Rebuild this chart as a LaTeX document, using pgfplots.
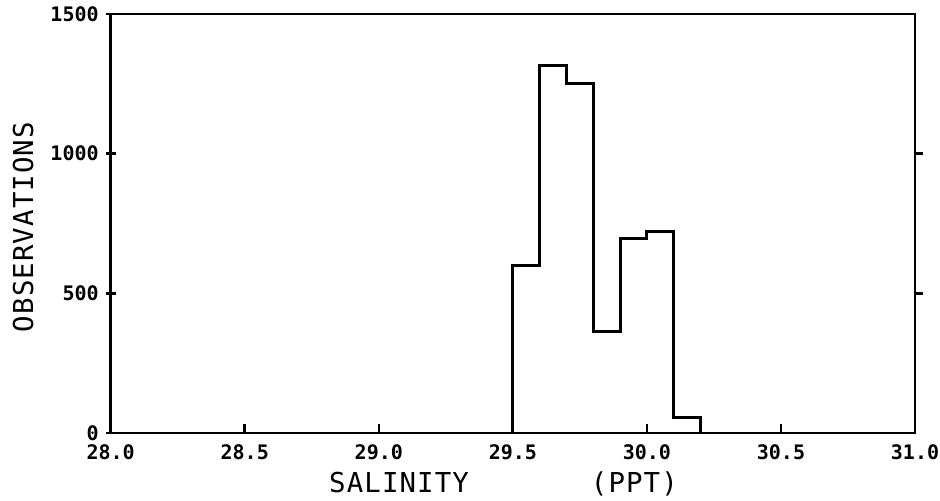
\documentclass[border=0pt]{standalone}
\usepackage{fontspec}
\setmainfont{DejaVu Sans Mono}
\usepackage{pgfplots}
\pgfplotsset{compat=1.18}
\newfontfamily\labfont[LetterSpace=4]{DejaVu Sans Mono}
\pgfplotsset{overlay/.style={
  at={(0,0)}, anchor=south west,
  scale only axis, width=402.15pt, height=209.5pt,
  xmin=28, xmax=31, ymin=0, ymax=1500,
  axis line style={draw=none},
  every tick/.style={black, line width=1.3pt},
}}
\begin{document}
\begin{tikzpicture}
\useasboundingbox (-55.35pt,-33.5pt) rectangle (414.65pt,216.5pt);
\begin{axis}[
  at={(0,0)}, anchor=south west,
  scale only axis, width=402.15pt, height=209.5pt,
  xmin=28, xmax=31, ymin=0, ymax=1500,
  axis line style={line width=1.4pt},
  xtick={28,28.5,29,29.5,30,30.5,31},
  ytick={0,500,1000,1500},
  xtick pos=bottom, ytick pos=left,
  tick align=center,
  major tick length=5pt,
  every tick/.style={black, line width=1.3pt},
  xtick style={draw=none},
  x tick label style={/pgf/number format/.cd, fixed, fixed zerofill, precision=1, assume math mode=true},
  y tick label style={/pgf/number format/.cd, 1000 sep={}, assume math mode=true},
  ticklabel style={font=\fontsize{10}{10}\selectfont\bfseries},
  xlabel={SALINITY\phantom{1234567}(PPT)},
  ylabel={OBSERVATIONS},
  every axis x label/.style={at={(axis description cs:0.4884,-0.1408)}, anchor=base, font=\labfont\fontsize{13.7}{14}\selectfont},
  every axis y label/.style={at={(axis description cs:-0.109,0.4916)}, anchor=center, rotate=90, font=\labfont\fontsize{13.7}{14}\selectfont},
  clip=false,
]
\addplot[const plot mark left, black, line width=1.5pt] coordinates {
  (29.5,0) (29.5,601) (29.6,1314) (29.7,1250) (29.8,365) (29.9,695) (30.0,721) (30.1,55) (30.2,0)
};
\end{axis}
\begin{axis}[overlay,
  xtick={28,28.5,29,29.5,30,30.5,31}, xticklabels={},
  xtick pos=bottom, ytick=\empty,
  tick align=inside, major tick length=4.5pt,
]
\addplot[draw=none] coordinates {(28,0)};
\end{axis}
\begin{axis}[overlay,
  xtick=\empty,
  ytick={500,1000}, yticklabels={},
  ytick pos=right, tick align=outside,
  major tick length=4pt,
]
\addplot[draw=none] coordinates {(28,0)};
\end{axis}
\end{tikzpicture}
\end{document}
